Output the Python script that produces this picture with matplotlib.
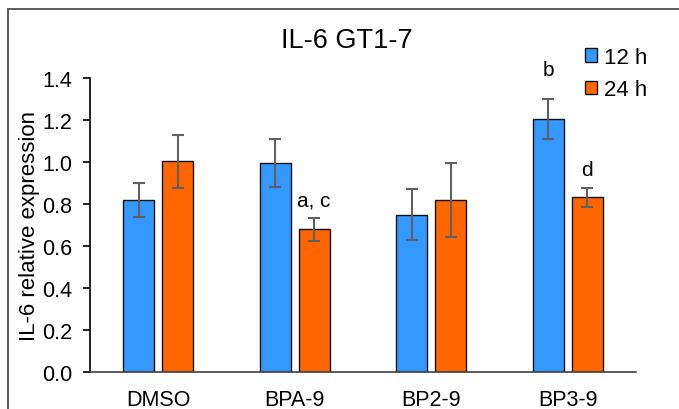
import numpy as np
import matplotlib.pyplot as plt
from matplotlib.patches import Rectangle

plt.rcParams['font.family'] = ['Liberation Sans', 'DejaVu Sans']

categories = ['DMSO', 'BPA-9', 'BP2-9', 'BP3-9']
h12 = [0.82, 0.995, 0.75, 1.205]
h12_err = [0.08, 0.115, 0.122, 0.097]
h24 = [1.003, 0.68, 0.818, 0.832]
h24_err = [0.125, 0.055, 0.177, 0.045]
labels_12 = ['', '', '', 'b']
labels_24 = ['', 'a, c', '', 'd']

fig = plt.figure(figsize=(6.79, 4.10), dpi=100)
ax = fig.add_axes([0.1325, 0.0902, 0.8042, 0.7171])

# outer chart frame (cut off on right and bottom like the source image)
fig.patches.append(Rectangle((8 / 679, -0.05), 1.1, 1 - 10 / 410 + 0.05,
                             transform=fig.transFigure, fill=False,
                             edgecolor='#404040', linewidth=1.2))

x = np.arange(len(categories))
w = 0.227
off = 0.142
err_kw = dict(ecolor='#606060', elinewidth=1.5, capsize=4, capthick=1.5)
ax.bar(x - off, h12, w, yerr=h12_err, color='#3399FF', edgecolor='#111111',
       linewidth=1.0, label='12 h', error_kw=err_kw)
ax.bar(x + off, h24, w, yerr=h24_err, color='#FF6600', edgecolor='#111111',
       linewidth=1.0, label='24 h', error_kw=err_kw)

# significance letters
for i in range(len(categories)):
    if labels_12[i]:
        ax.text(x[i] - off, h12[i] + h12_err[i] + 0.095, labels_12[i],
                ha='center', va='bottom', fontsize=15)
    if labels_24[i]:
        ax.text(x[i] + off, h24[i] + h24_err[i] + 0.04, labels_24[i],
                ha='center', va='bottom', fontsize=15)

ax.set_xlim(-0.5, 3.5)
ax.set_ylim(0, 1.4)
ax.set_yticks(np.arange(0, 1.41, 0.2))
ax.set_yticklabels([f'{v:.1f}' for v in np.arange(0, 1.41, 0.2)])
ax.set_xticks(x)
ax.set_xticklabels(categories)
ax.tick_params(axis='x', length=0, pad=12, labelsize=15.5)
ax.tick_params(axis='y', length=5, width=1.2, labelsize=15.5, pad=8)
ax.spines['top'].set_visible(False)
ax.spines['right'].set_visible(False)
ax.spines['left'].set_linewidth(1.2)
ax.spines['bottom'].set_linewidth(1.2)
ax.spines['bottom'].set_color('#404040')
ax.set_ylabel('IL-6 relative expression', fontsize=16, labelpad=1)

fig.text(347 / 679, 0.9, 'IL-6 GT1-7', ha='center', va='center', fontsize=19.5)

ax.legend(loc='upper left', bbox_to_anchor=(585 / 679, 1 - 48 / 410),
          bbox_transform=fig.transFigure, frameon=False, borderpad=0,
          borderaxespad=0, fontsize=16, handlelength=0.55, handleheight=0.55,
          handletextpad=0.3, labelspacing=0.5)

fig.savefig('out.png', dpi=100)
